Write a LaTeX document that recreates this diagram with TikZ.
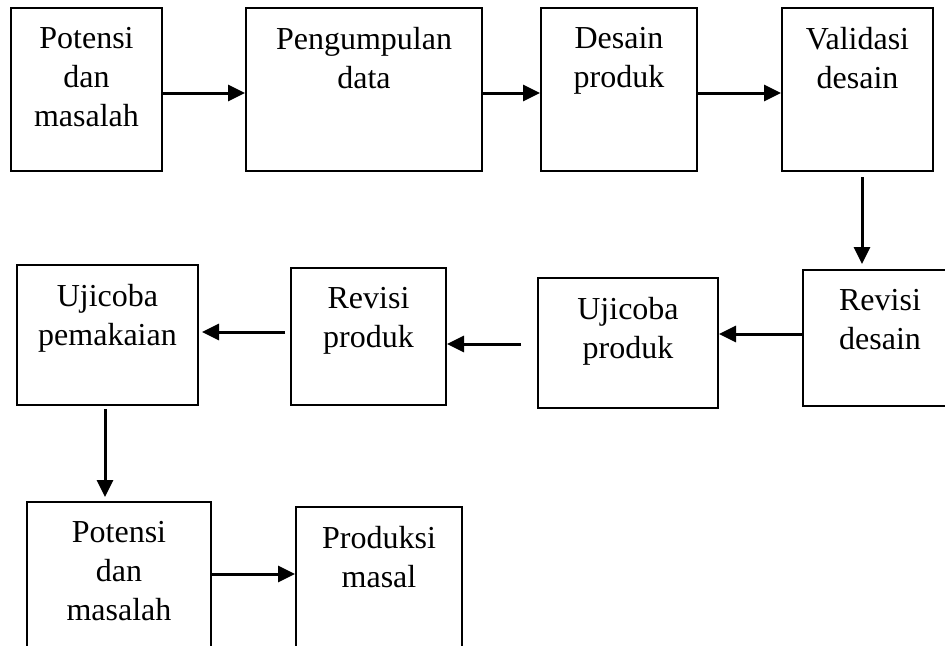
\documentclass[tikz,border=0pt]{standalone}
\usepackage{fontspec}
\setmainfont{Liberation Serif}
\usetikzlibrary{arrows.meta, positioning, calc}

\begin{document}
\begin{tikzpicture}[
    x=0.5pt, y=-0.5pt,
    stage/.style={rectangle, draw=black, line width=1pt, inner sep=0pt},
    caption/.style={anchor=north, yshift=-10.2pt, align=center, inner sep=0pt, outer sep=0pt,
                    font=\fontsize{16}{19.5}\selectfont},
    flow/.style={-{Triangle[length=8.5pt, width=8pt]}, line width=1.5pt},
]
    \useasboundingbox (0,0) rectangle (945,645);
    \clip (0,0) rectangle (945,645);

    % first row
    \node[stage, minimum width=75.5pt, minimum height=81.5pt,
          label={[caption]north:{Potensi\\dan\\masalah}}] (potensi) at (86.5,89.5) {};
    \node[stage, minimum width=118pt, minimum height=81.5pt,
          label={[caption]north:{Pengumpulan\\data}}] (data) at (364,89.5) {};
    \node[stage, minimum width=78pt, minimum height=81.5pt,
          label={[caption]north:{Desain\\produk}}] (desain) at (619,89.5) {};
    \node[stage, minimum width=75.5pt, minimum height=81.5pt,
          label={[caption]north:{Validasi\\desain}}] (validasi) at (857.5,89.5) {};

    % second row
    \node[stage, minimum width=77pt, minimum height=68pt,
          label={[caption]north:{Revisi\\desain}}] (revdes) at (880,338) {};
    \node[stage, minimum width=90pt, minimum height=65pt,
          label={[caption]north:{Ujicoba\\produk}}] (ujprod) at (628,343) {};
    \node[stage, minimum width=77.5pt, minimum height=68.5pt,
          label={[caption]north:{Revisi\\produk}}] (revprod) at (368.5,336.5) {};
    \node[stage, minimum width=90.5pt, minimum height=70pt,
          label={[caption]north:{Ujicoba\\pemakaian}}] (ujpem) at (107.5,335) {};

    % third row
    \node[stage, minimum width=92pt, minimum height=81.5pt,
          label={[caption]north:{Potensi\\dan\\masalah}}] (potensib) at (119,583.5) {};
    \node[stage, minimum width=83pt, minimum height=81.5pt,
          label={[caption]north:{Produksi\\masal}}] (produksi) at (379,588.5) {};

    % connectors
    \draw[flow] ($(potensi.east)+(0,3.5)$) -- ($(data.west)+(0,3.5)$);
    \draw[flow] ($(data.east)+(0,3.5)$) -- ($(desain.west)+(0,3.5)$);
    \draw[flow] ($(desain.east)+(0,3.5)$) -- ($(validasi.west)+(0,3.5)$);
    \draw[flow] ($(validasi.south)+(4.5,5)$) -- ($(validasi.south |- revdes.north)+(4.5,-5)$);
    \draw[flow] ($(revdes.west)+(0,-4)$) -- ($(ujprod.east |- revdes.west)+(0,-4)$);
    \draw[flow] ($(ujprod.west)+(-16,1)$) -- ($(revprod.east |- ujprod.west)+(0,1)$);
    \draw[flow] ($(revprod.west)+(-5,-4.5)$) -- ($(ujpem.east |- revprod.west)+(3,-4.5)$);
    \draw[flow] ($(ujpem.south)+(-2.5,3)$) -- ($(ujpem.south |- potensib.north)+(-2.5,-4)$);
    \draw[flow] ($(potensib.east)+(0,-9.5)$) -- ($(produksi.west |- potensib.east)+(0,-9.5)$);
\end{tikzpicture}
\end{document}
